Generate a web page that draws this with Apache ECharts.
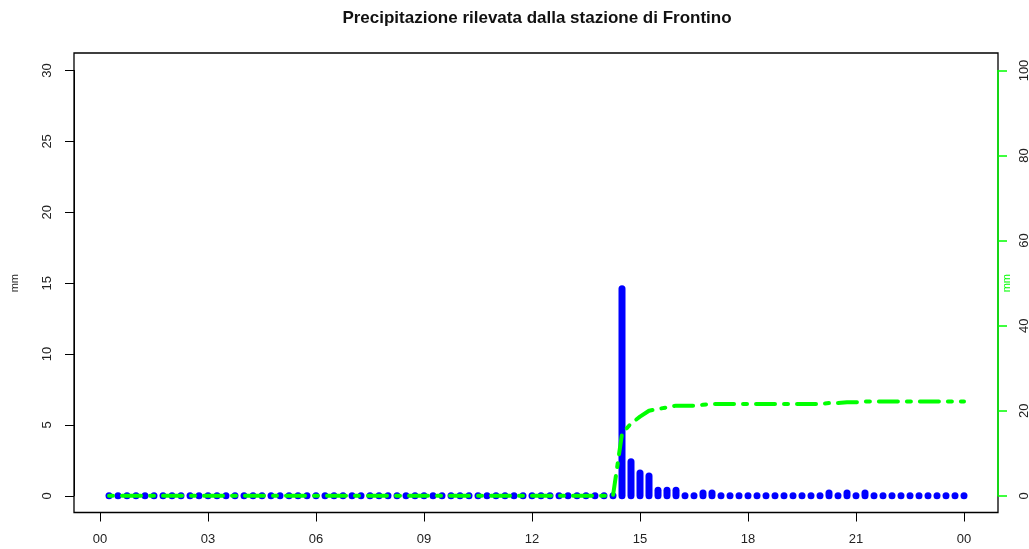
<!DOCTYPE html>
<html>
<head>
<meta charset="utf-8">
<title>Precipitazione Frontino</title>
<script src="https://cdn.jsdelivr.net/npm/echarts@6/dist/echarts.min.js"></script>
<style>
  html, body { margin: 0; padding: 0; background: #ffffff; }
  #chart { width: 1029px; height: 549px; }
</style>
</head>
<body>
<div id="chart"></div>
<script>
// Observation times (15-minute steps over the day)
const times = [
  "00:15","00:30","00:45","01:00","01:15","01:30","01:45","02:00",
  "02:15","02:30","02:45","03:00","03:15","03:30","03:45","04:00",
  "04:15","04:30","04:45","05:00","05:15","05:30","05:45","06:00",
  "06:15","06:30","06:45","07:00","07:15","07:30","07:45","08:00",
  "08:15","08:30","08:45","09:00","09:15","09:30","09:45","10:00",
  "10:15","10:30","10:45","11:00","11:15","11:30","11:45","12:00",
  "12:15","12:30","12:45","13:00","13:15","13:30","13:45","14:00",
  "14:15","14:30","14:45","15:00","15:15","15:30","15:45","16:00",
  "16:15","16:30","16:45","17:00","17:15","17:30","17:45","18:00",
  "18:15","18:30","18:45","19:00","19:15","19:30","19:45","20:00",
  "20:15","20:30","20:45","21:00","21:15","21:30","21:45","22:00",
  "22:15","22:30","22:45","23:00","23:15","23:30","23:45","24:00"
];

// Rain per interval (mm)
const rain = [
  0, 0, 0, 0, 0, 0, 0, 0,
  0, 0, 0, 0, 0, 0, 0, 0,
  0, 0, 0, 0, 0, 0, 0, 0,
  0, 0, 0, 0, 0, 0, 0, 0,
  0, 0, 0, 0, 0, 0, 0, 0,
  0, 0, 0, 0, 0, 0, 0, 0,
  0, 0, 0, 0, 0, 0, 0, 0,
  0, 14.6, 2.4, 1.6, 1.4, 0.4, 0.4, 0.4,
  0, 0, 0.2, 0.2, 0, 0, 0, 0,
  0, 0, 0, 0, 0, 0, 0, 0,
  0.2, 0, 0.2, 0, 0.2, 0, 0, 0,
  0, 0, 0, 0, 0, 0, 0, 0
];

// Accumulated rain over the day (mm, right axis)
const cumulative = [
  0, 0, 0, 0, 0, 0, 0, 0,
  0, 0, 0, 0, 0, 0, 0, 0,
  0, 0, 0, 0, 0, 0, 0, 0,
  0, 0, 0, 0, 0, 0, 0, 0,
  0, 0, 0, 0, 0, 0, 0, 0,
  0, 0, 0, 0, 0, 0, 0, 0,
  0, 0, 0, 0, 0, 0, 0, 0,
  0, 14.6, 17.0, 18.6, 20.0, 20.4, 20.8, 21.2,
  21.2, 21.2, 21.4, 21.6, 21.6, 21.6, 21.6, 21.6,
  21.6, 21.6, 21.6, 21.6, 21.6, 21.6, 21.6, 21.6,
  21.8, 21.8, 22.0, 22.0, 22.2, 22.2, 22.2, 22.2,
  22.2, 22.2, 22.2, 22.2, 22.2, 22.2, 22.2, 22.2
];

// Hour tick labels (every 3 hours)
const hourLabels = ["00", "03", "06", "09", "12", "15", "18", "21", "00"];

const FONT = '"Liberation Sans", Arial, Helvetica, sans-serif';
const TEXT = '#222222';
const BLUE = '#0000ff';
const GREEN = '#00ff00';

const toHours = t => {
  const [h, m] = t.split(':').map(Number);
  return h + m / 60;
};

const rainData = times.map((t, i) => [toHours(t), rain[i]]);
const cumData = times.map((t, i) => [toHours(t), cumulative[i]]);

const chart = echarts.init(document.getElementById('chart'), null, { renderer: 'canvas' });

const option = {
  animation: false,
  backgroundColor: '#ffffff',
  title: {
    text: 'Precipitazione rilevata dalla stazione di Frontino',
    left: 537,
    top: 10,
    textAlign: 'center',
    padding: 0,
    textStyle: { fontFamily: FONT, fontSize: 17, fontWeight: 'bold', color: '#111111' }
  },
  grid: [
    // plot frame
    { left: 74, right: 31, top: 53, bottom: 36.5, show: true, outerBoundsMode: 'none',
      containLabel: false,
      borderColor: '#000000', borderWidth: 1.3, backgroundColor: 'transparent', z: -1 },
    // data area: 00..24 h horizontally, 0..30 mm vertically
    { left: 100, right: 65, top: 70.5, bottom: 53.2, outerBoundsMode: 'none', containLabel: false }
  ],
  xAxis: [
    { gridIndex: 0, type: 'value', show: false, min: 0, max: 1 },
    {
      gridIndex: 1, type: 'value', position: 'bottom', offset: 16.7,
      min: 0, max: 24, interval: 3,
      axisLine: { show: true, onZero: false, lineStyle: { color: '#000000', width: 1 } },
      axisTick: { show: true, length: 9, lineStyle: { color: '#000000', width: 1 } },
      axisLabel: {
        margin: 20, fontFamily: FONT, fontSize: 13, color: TEXT,
        formatter: v => hourLabels[Math.round(v / 3)]
      },
      splitLine: { show: false }
    }
  ],
  yAxis: [
    { gridIndex: 0, type: 'value', show: false, min: 0, max: 1 },
    {
      gridIndex: 1, type: 'value', position: 'left', offset: 26,
      min: 0, max: 30, interval: 5,
      name: 'mm', nameLocation: 'middle', nameRotate: 90, nameGap: 54,
      nameMoveOverlap: false,
      nameTextStyle: { fontFamily: FONT, fontSize: 11, color: TEXT },
      axisLine: { show: true, onZero: false, lineStyle: { color: '#000000', width: 1 } },
      axisTick: { show: true, length: 9, lineStyle: { color: '#000000', width: 1 } },
      axisLabel: { rotate: 90, margin: 20, fontFamily: FONT, fontSize: 13, color: TEXT },
      splitLine: { show: false }
    },
    {
      gridIndex: 1, type: 'value', position: 'right', offset: 34,
      min: 0, max: 100, interval: 20,
      name: 'mm', nameLocation: 'middle', nameRotate: 90, nameGap: 3,
      nameMoveOverlap: false,
      nameTextStyle: { fontFamily: FONT, fontSize: 11, color: GREEN },
      axisLine: { show: true, onZero: false, lineStyle: { color: GREEN, width: 1.5 } },
      axisTick: { show: true, length: 9, lineStyle: { color: GREEN, width: 1.5 } },
      axisLabel: { rotate: 90, margin: 20, fontFamily: FONT, fontSize: 13, color: TEXT },
      splitLine: { show: false }
    }
  ],
  series: [
    {
      // rain per interval: vertical strokes with rounded ends
      type: 'custom',
      xAxisIndex: 1,
      yAxisIndex: 1,
      data: rainData,
      z: 2,
      clip: false,
      renderItem: (params, api) => {
        const x = api.value(0);
        const v = api.value(1);
        const base = api.coord([x, 0]);
        const top = api.coord([x, v]);
        const w = 7;
        return {
          type: 'rect',
          shape: {
            x: base[0] - w / 2,
            y: top[1] - w / 2,
            width: w,
            height: (base[1] - top[1]) + w,
            r: w / 2
          },
          style: { fill: BLUE }
        };
      }
    },
    {
      // accumulated rain
      type: 'line',
      xAxisIndex: 1,
      yAxisIndex: 2,
      data: cumData,
      z: 3,
      clip: false,
      showSymbol: false,
      symbol: 'none',
      lineStyle: { color: GREEN, width: 4, type: [4, 9, 19, 9], cap: 'round', join: 'round' }
    }
  ]
};

chart.setOption(option);
</script>
</body>
</html>
